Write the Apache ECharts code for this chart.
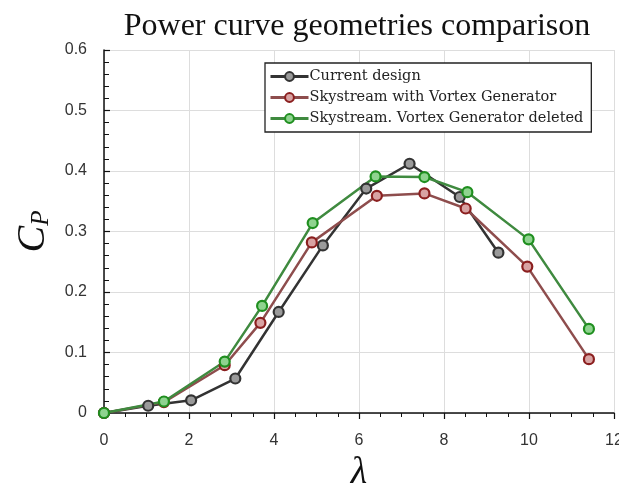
<!DOCTYPE html>
<html>
<head>
<meta charset="utf-8">
<script src="https://cdn.jsdelivr.net/npm/echarts@6/dist/echarts.min.js"></script>
<style>
  html, body { margin: 0; padding: 0; background: #fff; }
  #main { width: 619px; height: 492px; }
</style>
</head>
<body>
<div id="main"></div>
<script>
// 数据
var currentX = [0, 1.04, 2.05, 3.09, 4.11, 5.15, 6.17, 7.19, 8.37, 9.28];
var currentY = [0, 0.012, 0.021, 0.057, 0.167, 0.277, 0.371, 0.412, 0.357, 0.265];

var vgX = [0, 1.41, 2.84, 3.68, 4.89, 6.42, 7.54, 8.51, 9.96, 11.41];
var vgY = [0, 0.018, 0.079, 0.149, 0.282, 0.359, 0.363, 0.338, 0.242, 0.089];

var noVgX = [0, 1.41, 2.84, 3.72, 4.91, 6.39, 7.54, 8.55, 9.99, 11.41];
var noVgY = [0, 0.019, 0.085, 0.177, 0.314, 0.391, 0.390, 0.365, 0.287, 0.139];

var seriesNames = ['Current design', 'Skystream with Vortex Generator', 'Skystream. Vortex Generator deleted'];

function pairs(xs, ys) {
    return xs.map(function (x, i) { return [x, ys[i]]; });
}

var serif = '"Liberation Serif", "DejaVu Serif", serif';
var sans = '"Liberation Sans", Arial, sans-serif';

var myChart = echarts.init(document.getElementById('main'));

function lineSeries(name, data, lineColor, markBorder, markFill) {
    return {
        name: name,
        type: 'line',
        data: data,
        symbol: 'circle',
        symbolSize: 10,
        lineStyle: { color: lineColor, width: 2.5 },
        itemStyle: { color: markFill, borderColor: markBorder, borderWidth: 2.2 },
        emphasis: { disabled: true }
    };
}

var option = {
    animation: false,
    title: {
        text: 'Power curve geometries comparison',
        left: 352,
        textAlign: 'center',
        top: 6,
        textStyle: { fontFamily: serif, fontWeight: 'normal', fontSize: 32, color: '#111' }
    },
    legend: {
        orient: 'vertical',
        left: 265,
        top: 63,
        itemWidth: 38,
        itemHeight: 11,
        itemGap: 6,
        padding: [6, 8, 6, 4],
        borderColor: '#222',
        borderWidth: 1.3,
        backgroundColor: '#fff',
        itemStyle: { borderWidth: 2 },
        lineStyle: { width: 3 },
        textStyle: { fontFamily: '"DejaVu Serif", serif', fontSize: 14.5, color: '#222', padding: [0, 0, 0, -4] },
        data: seriesNames
    },
    grid: { left: 104, right: 5, top: 50, bottom: 79, outerBoundsMode: 'none' },
    xAxis: {
        type: 'value',
        min: 0, max: 12, interval: 2,
        name: 'λ',
        nameLocation: 'middle',
        nameGap: 36,
        nameTextStyle: { fontFamily: serif, fontStyle: 'italic', fontSize: 38, color: '#111' },
        axisLine: { lineStyle: { color: '#111', width: 1.5 } },
        axisTick: { length: 6, lineStyle: { color: '#111', width: 1.2 } },
        minorTick: { show: true, splitNumber: 4, length: 4, lineStyle: { color: '#111' } },
        axisLabel: { fontFamily: sans, fontSize: 16, color: '#333', margin: 20 },
        splitLine: { show: true, lineStyle: { color: '#ddd', width: 1 } }
    },
    yAxis: {
        type: 'value',
        min: 0, max: 0.6, interval: 0.1,
        name: '{c|C}{p|P}',
        nameLocation: 'middle',
        nameGap: 50,
        nameRotate: 90,
        nameTextStyle: {
            rich: {
                c: { fontFamily: serif, fontStyle: 'italic', fontSize: 40, color: '#111' },
                p: { fontFamily: serif, fontStyle: 'italic', fontSize: 25, color: '#111', padding: [16, 0, 0, 0] }
            }
        },
        axisLine: { show: true, lineStyle: { color: '#111', width: 1.5 } },
        axisTick: { show: true, inside: true, length: 6, lineStyle: { color: '#111', width: 1.2 } },
        minorTick: { show: true, splitNumber: 5, length: 5, lineStyle: { color: '#111' } },
        axisLabel: { fontFamily: sans, fontSize: 16, color: '#333', margin: 17 },
        splitLine: { show: true, lineStyle: { color: '#ddd', width: 1 } }
    },
    series: [
        lineSeries(seriesNames[0], pairs(currentX, currentY), '#333333', '#333333', '#9a9a9a'),
        lineSeries(seriesNames[1], pairs(vgX, vgY), '#8e4d4d', '#8b1f1f', '#d8a3a3'),
        lineSeries(seriesNames[2], pairs(noVgX, noVgY), '#3f8a3f', '#1f8f1f', '#8fd38f')
    ]
};

myChart.setOption(option);
</script>
</body>
</html>
